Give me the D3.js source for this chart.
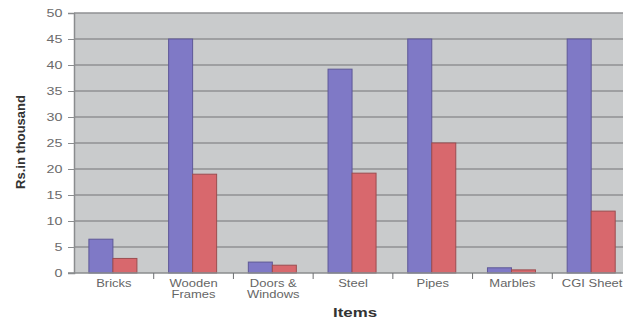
<!DOCTYPE html>
<html>
<head>
<meta charset="utf-8">
<script src="https://cdn.jsdelivr.net/npm/d3@7"></script>
<style>
  body { margin: 0; background: #fff; }
  svg { display: block; font-family: "Liberation Sans", Arial, sans-serif; }
</style>
</head>
<body>
<div id="chart"></div>
<script>
// chart data
const categories = ["Bricks", "Wooden\nFrames", "Doors &\nWindows", "Steel", "Pipes", "Marbles", "CGI Sheet"];
const seriesA = [6.5, 45, 2.1, 39.2, 45, 1.0, 45];
const seriesB = [2.8, 19, 1.5, 19.2, 25, 0.6, 11.9];
const yTicks = [0, 5, 10, 15, 20, 25, 30, 35, 40, 45, 50];

const width = 623, height = 320;
const margin = { top: 13, right: -9, bottom: 47, left: 74 };
const stretch = 1.3; // source picture is a bit widened, text too

const svg = d3.select("#chart").append("svg")
  .attr("width", width)
  .attr("height", height);

let x = d3.scaleBand()
  .domain(categories)
  .range([margin.left, width - margin.right])
  .paddingInner(0).paddingOuter(0);

let xs = d3.scaleBand()
  .domain(["a", "b"])
  .range([0, x.bandwidth()])
  .paddingInner(0)
  .paddingOuter(0.66)
  .align(0.47);

let y = d3.scaleLinear()
  .domain([0, 50])
  .range([height - margin.bottom, margin.top]);

// plot background
svg.append("rect")
  .attr("x", margin.left)
  .attr("y", margin.top)
  .attr("width", width - margin.right - margin.left)
  .attr("height", y(0) - margin.top)
  .attr("fill", "#c9cbcc");

// gridlines
svg.append("g")
  .selectAll("line")
  .data(yTicks.filter(d => d > 0))
  .join("line")
  .attr("x1", margin.left)
  .attr("x2", width)
  .attr("y1", d => y(d))
  .attr("y2", d => y(d))
  .attr("stroke", "#8f9193")
  .attr("stroke-width", 1.5);

// y axis
let yAxis = g => g
  .attr("transform", `translate(${margin.left},0)`)
  .call(d3.axisLeft(y).tickValues(yTicks).tickSize(6).tickPadding(5))
  .call(g => g.selectAll(".domain").attr("stroke", "#8a8c8e").attr("stroke-width", 1.5))
  .call(g => g.selectAll(".tick line").attr("stroke", "#8a8c8e"))
  .call(g => g.selectAll(".tick text")
    .attr("x", 0)
    .attr("transform", `translate(-11.5,0) scale(${stretch},1)`)
    .attr("fill", "#6b6b6b")
    .attr("font-size", 11)
    .attr("font-family", "'Liberation Sans', Arial, sans-serif"));

svg.append("g").call(yAxis);

// bars
const rows = categories.map((c, i) => ({ cat: c, a: seriesA[i], b: seriesB[i] }));

const groups = svg.append("g")
  .selectAll("g")
  .data(rows)
  .join("g")
  .attr("transform", d => `translate(${x(d.cat)},0)`);

groups.append("rect")
  .attr("x", xs("a"))
  .attr("y", d => y(d.a))
  .attr("width", xs.bandwidth())
  .attr("height", d => y(0) - y(d.a))
  .attr("fill", "#7f79c6")
  .attr("stroke", "#5e5897")
  .attr("stroke-width", 1);

groups.append("rect")
  .attr("x", xs("b"))
  .attr("y", d => y(d.b))
  .attr("width", xs.bandwidth())
  .attr("height", d => y(0) - y(d.b))
  .attr("fill", "#d8686d")
  .attr("stroke", "#9c4d50")
  .attr("stroke-width", 1);

// x axis
const xAxisG = svg.append("g")
  .attr("transform", `translate(0,${y(0)})`);

xAxisG.append("line")
  .attr("x1", margin.left - 6)
  .attr("x2", width)
  .attr("stroke", "#8a8c8e")
  .attr("stroke-width", 1.5);

xAxisG.selectAll(".sep")
  .data(categories.slice(1))
  .join("line")
  .attr("class", "sep")
  .attr("x1", d => x(d))
  .attr("x2", d => x(d))
  .attr("y1", 0)
  .attr("y2", 6)
  .attr("stroke", "#6d6f71");

xAxisG.selectAll(".lbl")
  .data(categories)
  .join("text")
  .attr("class", "lbl")
  .attr("text-anchor", "middle")
  .attr("fill", "#666")
  .attr("font-size", 10)
  .attr("transform", d => `translate(${x(d) + x.bandwidth() / 2},14) scale(${stretch},1)`)
  .selectAll("tspan")
  .data(d => d.split("\n"))
  .join("tspan")
  .attr("x", 0)
  .attr("dy", (d, i) => i === 0 ? 0 : 11.5)
  .text(d => d);

// axis titles
svg.append("text")
  .attr("transform", "translate(25,142) rotate(-90)")
  .attr("text-anchor", "middle")
  .attr("font-weight", "bold")
  .attr("font-size", 13)
  .attr("fill", "#333")
  .text("Rs.in thousand");

svg.append("text")
  .attr("transform", `translate(355,317) scale(${stretch},1)`)
  .attr("text-anchor", "middle")
  .attr("font-weight", "bold")
  .attr("font-size", 13)
  .attr("fill", "#333")
  .text("Items");
</script>
</body>
</html>
